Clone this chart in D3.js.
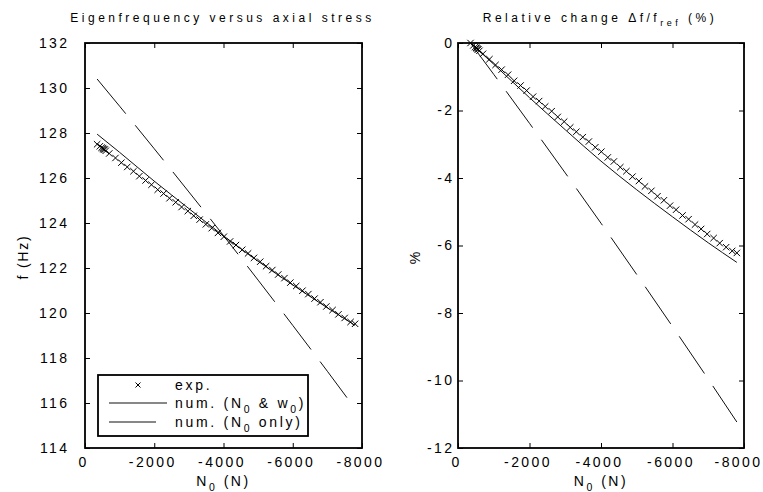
<!DOCTYPE html>
<html lang="en">
<head>
<meta charset="UTF-8">
<title>Eigenfrequency versus axial stress</title>
<style>
  body { margin: 0; background: #fff; }
  svg text { font-family: "Liberation Sans", Arial, sans-serif; fill: #000; }
</style>
</head>
<body>
<script src="https://cdn.jsdelivr.net/npm/d3@7"></script>
<script>
// experimental points (N0 in N)
const exp_N = [-350, -430, -480, -510, -530, -550, -570, -600, -700, -880, -1050, -1220, -1400, -1570,
  -1750, -1920, -2100, -2270, -2440, -2620, -2790, -2970, -3140, -3310, -3490, -3660, -3840, -4010,
  -4190, -4360, -4540, -4710, -4880, -5060, -5230, -5410, -5580, -5760, -5930, -6100, -6280, -6450,
  -6630, -6800, -6970, -7150, -7320, -7500, -7670, -7800];
const exp_f = [127.5, 127.41, 127.35, 127.33, 127.29, 127.27, 127.26, 127.21, 127.09, 126.89, 126.68, 126.49,
  126.30, 126.08, 125.89, 125.70, 125.48, 125.31, 125.10, 124.92, 124.71, 124.53, 124.32, 124.15,
  123.94, 123.77, 123.56, 123.39, 123.18, 123.02, 122.81, 122.65, 122.45, 122.28, 122.08, 121.91,
  121.71, 121.55, 121.35, 121.20, 120.99, 120.84, 120.64, 120.48, 120.29, 120.13, 119.94, 119.78,
  119.60, 119.52];
const exp_pct = [0, -0.07, -0.12, -0.14, -0.16, -0.18, -0.19, -0.23, -0.32, -0.48, -0.65, -0.79,
  -0.94, -1.12, -1.26, -1.41, -1.59, -1.72, -1.88, -2.02, -2.19, -2.33, -2.50, -2.63,
  -2.79, -2.92, -3.09, -3.22, -3.39, -3.51, -3.68, -3.80, -3.96, -4.09, -4.25, -4.38,
  -4.54, -4.66, -4.82, -4.94, -5.11, -5.22, -5.38, -5.51, -5.66, -5.78, -5.93, -6.05,
  -6.16, -6.22];

// numerical model, initial stress and initial deflection
const numFull_N = [-350, -1000, -2000, -3000, -4000, -5000, -6000, -7000, -7800];
const numFull_f = [127.95, 127.14, 125.86, 124.64, 123.43, 122.30, 121.25, 120.23, 119.45];
const numFull_pct = [0, -0.63, -1.62, -2.57, -3.5, -4.35, -5.15, -5.92, -6.5];

// numerical model, initial stress only
const numOnly_N = [-350, -1000, -2000, -3000, -4000, -5000, -6000, -7000, -7800];
const numOnly_f = [130.4, 129.19, 127.30, 125.38, 123.44, 121.46, 119.45, 117.41, 115.75];
const numOnly_pct = [0, -0.93, -2.38, -3.85, -5.34, -6.86, -8.40, -9.96, -11.23];

const x_ticks = [0, -2000, -4000, -6000, -8000];
const f_ticks = [114, 116, 118, 120, 122, 124, 126, 128, 130, 132];
const pct_ticks = [-12, -10, -8, -6, -4, -2, 0];

const W = 763, H = 492;
const svg = d3.select('body').append('svg')
  .attr('width', W).attr('height', H)
  .style('display', 'block');

const TICK_FS = 14, LS = 2.4;

// text with subscripts: parts = [[str, isSub], ...]
function richText(sel, parts, fs) {
  let down = false;
  parts.forEach(([s, sub]) => {
    const t = sel.append('tspan').text(s);
    if (sub && !down) { t.attr('dy', fs * 0.35).attr('font-size', fs * 0.75); down = true; }
    else if (sub) { t.attr('font-size', fs * 0.75); }
    else if (!sub && down) { t.attr('dy', -fs * 0.35); down = false; }
  });
  return sel;
}

function drawPanel(p) {
  const x = d3.scaleLinear().domain([0, -8000]).range([p.x0, p.x1]);
  const y = d3.scaleLinear().domain(p.yDomain).range([448, 43]);
  const g = svg.append('g');
  const fmt = d => String(d);

  const styleAxis = a => {
    a.attr('font-size', null).attr('font-family', null);
    a.select('.domain').remove();
    a.selectAll('.tick line').attr('stroke', '#000').attr('stroke-width', 1);
    a.selectAll('text').attr('font-size', TICK_FS).attr('letter-spacing', LS);
  };

  g.append('g').attr('transform', 'translate(0,448)')
    .call(d3.axisBottom(x).tickValues(x_ticks).tickFormat(fmt).tickSize(-5).tickSizeOuter(0).tickPadding(9))
    .call(styleAxis)
    .selectAll('text').attr('dx', d => d === -8000 ? p.lastDx : -2);
  g.append('g').attr('transform', 'translate(0,43)')
    .call(d3.axisTop(x).tickValues(x_ticks).tickFormat('').tickSize(-5).tickSizeOuter(0))
    .call(styleAxis);
  g.append('g').attr('transform', `translate(${p.x0},0)`)
    .call(d3.axisLeft(y).tickValues(p.yTicks).tickFormat(fmt).tickSize(-5).tickSizeOuter(0).tickPadding(p.yPad))
    .call(styleAxis);
  g.append('g').attr('transform', `translate(${p.x1},0)`)
    .call(d3.axisRight(y).tickValues(p.yTicks).tickFormat('').tickSize(-5).tickSizeOuter(0))
    .call(styleAxis);

  g.append('rect')
    .attr('x', p.x0).attr('y', 43)
    .attr('width', p.x1 - p.x0).attr('height', 405)
    .attr('fill', 'none').attr('stroke', '#000').attr('stroke-width', 1.8);

  const line = d3.line().x(d => x(d[0])).y(d => y(d[1])).curve(d3.curveMonotoneX);

  g.append('path')
    .datum(d3.zip(numOnly_N, p.only))
    .attr('d', line)
    .attr('fill', 'none').attr('stroke', '#111').attr('stroke-width', 1)
    .attr('stroke-dasharray', '45,15');

  g.append('path')
    .datum(d3.zip(numFull_N, p.full))
    .attr('d', line)
    .attr('fill', 'none').attr('stroke', '#111').attr('stroke-width', 1);

  const s = 3.2;
  g.append('g').selectAll('path')
    .data(d3.zip(exp_N, p.exp))
    .join('path')
    .attr('d', d => {
      const cx = x(d[0]), cy = y(d[1]);
      return `M${cx - s},${cy - s}L${cx + s},${cy + s}M${cx - s},${cy + s}L${cx + s},${cy - s}`;
    })
    .attr('stroke', '#000').attr('stroke-width', 1);

  const cx = (p.x0 + p.x1) / 2;
  richText(g.append('text').attr('x', cx - 1).attr('y', 22)
    .attr('text-anchor', 'middle').attr('font-size', 12).attr('letter-spacing', 3.5), p.title, 12);
  richText(g.append('text').attr('x', cx).attr('y', 486)
    .attr('text-anchor', 'middle').attr('font-size', 14).attr('letter-spacing', 2.5),
    [['N', false], ['0', true], [' (N)', false]], 14);
  g.append('text')
    .attr('transform', `translate(${p.ylx},257) rotate(-90)`)
    .attr('text-anchor', 'middle').attr('font-size', 14).attr('letter-spacing', 1.8)
    .text(p.ylabel);

  return { x, y, g };
}

const left = drawPanel({
  x0: 85, x1: 362, yDomain: [114, 132], yTicks: f_ticks, yPad: 15.5, lastDx: -2,
  exp: exp_f, full: numFull_f, only: numOnly_f,
  title: [['Eigenfrequency versus axial stress', false]],
  ylabel: 'f (Hz)', ylx: 28
});

drawPanel({
  x0: 458, x1: 744, yDomain: [-12, 0], yTicks: pct_ticks, yPad: 3.5, lastDx: -6,
  exp: exp_pct, full: numFull_pct, only: numOnly_pct,
  title: [['Relative change \u0394f/f', false], ['ref', true], [' (%)', false]],
  ylabel: '%', ylx: 420
});

// legend
const lg = left.g.append('g');
lg.append('rect').attr('x', 98).attr('y', 375).attr('width', 210).attr('height', 61)
  .attr('fill', '#fff').attr('stroke', '#000').attr('stroke-width', 1.8);
const rows = [385, 403, 422];
lg.append('path')
  .attr('d', `M135.5,${rows[0] - 2.5}L140.5,${rows[0] + 2.5}M135.5,${rows[0] + 2.5}L140.5,${rows[0] - 2.5}`)
  .attr('stroke', '#000').attr('stroke-width', 1);
lg.append('line').attr('x1', 109).attr('x2', 167).attr('y1', rows[1]).attr('y2', rows[1])
  .attr('stroke', '#111').attr('stroke-width', 1);
lg.append('line').attr('x1', 109).attr('x2', 167).attr('y1', rows[2]).attr('y2', rows[2])
  .attr('stroke', '#111').attr('stroke-width', 1).attr('stroke-dasharray', '47,15');
const legTexts = [
  [['exp.', false]],
  [['num. (N', false], ['0', true], [' & w', false], ['0', true], [')', false]],
  [['num. (N', false], ['0', true], [' only)', false]]
];
legTexts.forEach((parts, i) => {
  richText(lg.append('text').attr('x', 175).attr('y', rows[i] + 5)
    .attr('font-size', 14).attr('letter-spacing', 2.7), parts, 14);
});
</script>
</body>
</html>
